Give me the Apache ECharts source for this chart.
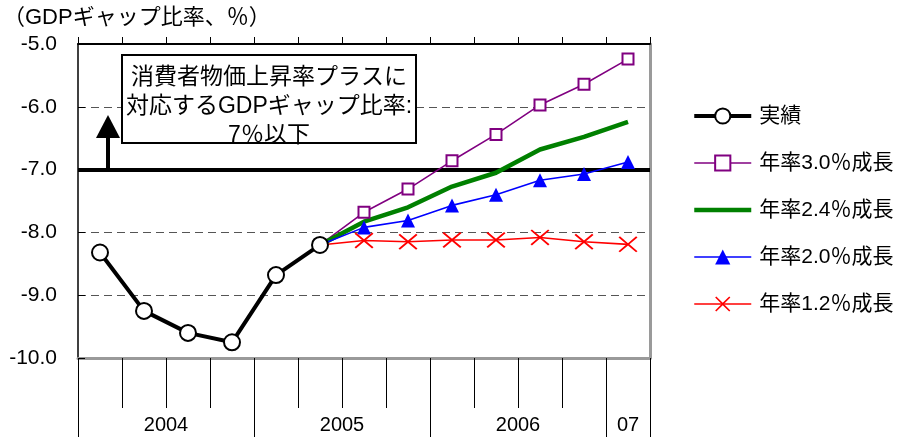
<!DOCTYPE html>
<html>
<head>
<meta charset="utf-8">
<script src="https://cdn.jsdelivr.net/npm/echarts@6/dist/echarts.min.js"></script>
<style>
  html, body { margin: 0; padding: 0; background: #fff; }
  #chart { width: 902px; height: 437px; }
</style>
</head>
<body>
<div id="chart"></div>
<script>
// Quarterly categories, 2004 Q1 – 2007 Q1
const quarters = ['2004Q1','2004Q2','2004Q3','2004Q4','2005Q1','2005Q2','2005Q3','2005Q4','2006Q1','2006Q2','2006Q3','2006Q4','2007Q1'];
// Year labels and their positions (in quarter units along the axis)
const yearLabels = ['2004', '2005', '2006', '07'];
const yearLabelPos = [2, 6, 10, 12.5];
const yearBoundaries = [0, 4, 8, 12, 13];
const yTicks = [-10, -9, -8, -7, -6, -5];

// Actual GDP gap ratio (%)
const actual = [-8.32, -9.25, -9.60, -9.75, -8.68, -8.20];
// Projections from 2005Q2 onward, by annual growth rate
const startIndex = 5;
const growth30 = [-8.20, -7.68, -7.31, -6.86, -6.44, -5.97, -5.64, -5.24];
const growth24 = [-8.20, -7.83, -7.60, -7.27, -7.05, -6.68, -6.48, -6.24];
const growth20 = [-8.20, -7.92, -7.81, -7.57, -7.40, -7.17, -7.07, -6.88];
const growth12 = [-8.20, -8.13, -8.15, -8.12, -8.12, -8.08, -8.15, -8.19];
const threshold = -7.0;

const FONT = "'Liberation Sans', 'Noto Sans CJK JP', sans-serif";

function projData(arr) {
  const out = new Array(startIndex).fill(null);
  arr.forEach((v, i) => out.push(i === 0 ? { value: v, symbol: 'none' } : v));
  return out;
}

const crossPath = 'path://M0,1.5L1.5,0L10,8.5L18.5,0L20,1.5L11.5,10L20,18.5L18.5,20L10,11.5L1.5,20L0,18.5L8.5,10Z';

const chart = echarts.init(document.getElementById('chart'), null, { renderer: 'canvas' });

chart.setOption({
  animation: false,
  backgroundColor: '#ffffff',
  textStyle: { fontFamily: FONT, color: '#000' },
  title: {
    text: '（GDPギャップ比率、％）',
    left: 3,
    top: 7,
    padding: 0,
    textStyle: { fontFamily: FONT, fontSize: 22, fontWeight: 'normal', color: '#000' }
  },
  grid: { left: 78, right: 252, top: 44, bottom: 79, containLabel: false },
  legend: {
    orient: 'vertical',
    left: 692,
    top: 104,
    padding: 0,
    itemWidth: 57,
    itemHeight: 19,
    itemGap: 23,
    lineStyle: { width: 'inherit' },
    data: [
      { name: '実績' },
      { name: '年率3.0％成長' },
      { name: '年率2.4％成長', itemStyle: { opacity: 0 } },
      { name: '年率2.0％成長' },
      { name: '年率1.2％成長' }
    ],
    textStyle: { fontFamily: FONT, fontSize: 21, color: '#000', lineHeight: 24, padding: [0, 0, 0, 3] }
  },
  xAxis: [
    {
      type: 'category',
      data: quarters,
      position: 'bottom',
      boundaryGap: true,
      axisLine: { show: true, lineStyle: { color: '#9a9a9a', width: 3 } },
      axisTick: { show: true, interval: 0, length: 50, lineStyle: { color: '#000', width: 1 } },
      axisLabel: { show: false },
      splitLine: { show: false }
    },
    {
      type: 'value',
      position: 'bottom',
      min: 0,
      max: 13,
      axisLine: { show: false },
      axisTick: { show: true, customValues: yearBoundaries, length: 80, lineStyle: { color: '#000', width: 1 } },
      axisLabel: {
        show: true,
        customValues: yearLabelPos,
        margin: 57,
        fontSize: 20,
        color: '#000',
        fontFamily: FONT,
        formatter: v => yearLabels[yearLabelPos.indexOf(v)] || ''
      },
      splitLine: { show: false }
    },
    {
      type: 'category',
      data: quarters,
      position: 'top',
      boundaryGap: true,
      axisLine: { show: true, lineStyle: { color: '#000', width: 2 } },
      axisTick: { show: true, interval: 0, length: 7, lineStyle: { color: '#000', width: 1 } },
      axisLabel: { show: false },
      splitLine: { show: false }
    }
  ],
  yAxis: [
    {
      type: 'value',
      min: -10,
      max: -5,
      interval: 1,
      position: 'left',
      axisLine: { show: true, lineStyle: { color: '#000', width: 1.5 } },
      axisTick: { show: true, inside: true, length: 7, lineStyle: { color: '#000' } },
      axisLabel: {
        margin: 21,
        fontSize: 21,
        color: '#000',
        fontFamily: FONT,
        formatter: v => yTicks.includes(v) ? v.toFixed(1) : ''
      },
      splitLine: { show: true, lineStyle: { color: '#555', width: 1, type: [8, 5] } }
    },
    {
      type: 'value',
      min: -10,
      max: -5,
      interval: 1,
      position: 'right',
      axisLine: { show: true, lineStyle: { color: '#9a9a9a', width: 3 } },
      axisTick: { show: false },
      axisLabel: { show: false },
      splitLine: { show: false }
    }
  ],
  series: [
    {
      name: '年率3.0％成長',
      type: 'line',
      data: projData(growth30),
      symbol: 'emptyRect',
      symbolSize: 11,
      showAllSymbol: true,
      lineStyle: { color: '#800080', width: 1.6 },
      itemStyle: { color: '#800080', borderColor: '#800080', borderWidth: 2 },
      z: 3
    },
    {
      name: '年率2.4％成長',
      type: 'line',
      data: projData(growth24),
      symbol: 'none',
      lineStyle: { color: '#008000', width: 4.5 },
      itemStyle: { color: '#008000' },
      z: 3
    },
    {
      name: '年率2.0％成長',
      type: 'line',
      data: projData(growth20),
      symbol: 'triangle',
      symbolSize: 14,
      showAllSymbol: true,
      lineStyle: { color: '#0000ff', width: 1.6 },
      itemStyle: { color: '#0000ff' },
      z: 3
    },
    {
      name: '年率1.2％成長',
      type: 'line',
      data: projData(growth12),
      symbol: crossPath,
      symbolSize: [19, 16],
      showAllSymbol: true,
      lineStyle: { color: '#ff0000', width: 1.6 },
      itemStyle: { color: '#ff0000' },
      z: 3
    },
    {
      name: '実績',
      type: 'line',
      data: actual,
      symbol: 'circle',
      symbolSize: 16,
      showAllSymbol: true,
      lineStyle: { color: '#000', width: 4 },
      itemStyle: { color: '#ffffff', borderColor: '#000', borderWidth: 2 },
      z: 5,
      markLine: {
        silent: true,
        symbol: ['none', 'none'],
        label: { show: false },
        lineStyle: { color: '#000', width: 4, type: 'solid' },
        data: [{ yAxis: threshold }],
        z: 2
      }
    }
  ],
  graphic: [
    // upward arrow from the threshold line
    { type: 'line', shape: { x1: 108, y1: 171, x2: 108, y2: 134 }, style: { stroke: '#000', lineWidth: 4 }, z: 10 },
    { type: 'polygon', shape: { points: [[108, 115], [96, 138], [120, 138]] }, style: { fill: '#000' }, z: 10 },
    // note box
    { type: 'rect', shape: { x: 122, y: 55, width: 294, height: 88 }, style: { fill: '#fff', stroke: '#000', lineWidth: 2 }, z: 10 },
    {
      type: 'text',
      x: 269,
      y: 63,
      style: {
        text: '消費者物価上昇率プラスに\n対応するGDPギャップ比率:\n7％以下',
        fontFamily: FONT,
        fontSize: 23,
        lineHeight: 29,
        fill: '#000',
        align: 'center',
        verticalAlign: 'top'
      },
      z: 11
    },
    { type: 'rect', shape: { x: 122, y: 55, width: 294, height: 88 }, style: { fill: 'none', stroke: '#000', lineWidth: 2 }, z: 12 }
  ]
});
</script>
</body>
</html>
